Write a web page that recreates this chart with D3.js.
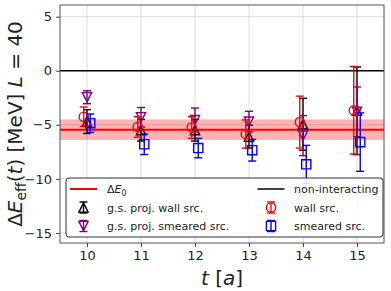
<!DOCTYPE html>
<html>
<head>
<meta charset="utf-8">
<script src="https://cdn.jsdelivr.net/npm/d3@7"></script>
<style>
	body { margin: 0; background: #fff; }
	svg { display: block; font-family: "DejaVu Sans", sans-serif; }
</style>
</head>
<body>
<div id="chartDiv"></div>
<script>
;(function() {

	// data
	var tValues = [10, 11, 12, 13, 14, 15];
	var xTicks = [10, 11, 12, 13, 14, 15];
	var yTicks = [5, 0, -5, -10, -15];

	var wallVal = [-4.25, -5.2, -5.25, -5.85, -4.75, -3.65];
	var wallErr = [0.9, 0.95, 1.0, 1.3, 2.4, 4.05];
	var smearVal = [-4.85, -6.8, -7.15, -7.35, -8.65, -6.6];
	var smearErr = [0.85, 0.95, 0.9, 1.0, 1.75, 2.7];
	var gsWallVal = [-4.7, -5.5, -5.5, -6.1, -4.95, -3.7];
	var gsWallErr = [1.1, 1.0, 1.0, 1.05, 2.4, 4.05];
	var gsSmearVal = [-2.45, -4.3, -4.55, -4.7, -6.0, -3.8];
	var gsSmearErr = [0.6, 0.9, 1.1, 0.95, 1.85, 2.3];

	var deltaE0 = -5.45;
	var deltaE0Err = 0.95;
	var nonInteracting = 0;

	var width = 391;
	var height = 291;
	var margin = { top: 5, right: 7, bottom: 48, left: 60 };
	var chartWidth = width - margin.left - margin.right;
	var chartHeight = height - margin.top - margin.bottom;

	var chart;

	init();

	function init() {
		chart = d3.select("#chartDiv").append("svg")
			.attr("width", width)
			.attr("height", height);

		chart.xScale = d3.scaleLinear().domain([9.5, 15.5]).range([0, chartWidth]);
		chart.yScale = d3.scaleLinear().domain([-15.93, 6.08]).range([chartHeight, 0]);

		chart.plotArea = chart.append("g")
			.attr("transform", "translate(" + margin.left + "," + margin.top + ")");

		createGrid();
		createAxes();
		drawBand();
		drawSeries(gsWallVal, gsWallErr, 0, "black", "triUp");
		drawSeries(gsSmearVal, gsSmearErr, 0, "purple", "triDown");
		drawZeroLine();
		drawSeries(wallVal, wallErr, -0.06, "red", "circle");
		drawSeries(smearVal, smearErr, 0.06, "blue", "square");
		drawFrame();
		drawLegend();
	}

	function createGrid() {
		var grid = chart.plotArea.append("g").attr("class", "grid");
		grid.selectAll(".vgrid").data(xTicks).enter().append("line")
			.attr("x1", function(d) { return chart.xScale(d); })
			.attr("x2", function(d) { return chart.xScale(d); })
			.attr("y1", 0).attr("y2", chartHeight)
			.attr("stroke", "#dcdcdc").attr("stroke-width", 1);
		grid.selectAll(".hgrid").data(yTicks).enter().append("line")
			.attr("y1", function(d) { return chart.yScale(d); })
			.attr("y2", function(d) { return chart.yScale(d); })
			.attr("x1", 0).attr("x2", chartWidth)
			.attr("stroke", "#dcdcdc").attr("stroke-width", 1);
	}

	function createAxes() {
		var fmt = function(d) { return d < 0 ? "\u2212" + Math.abs(d) : String(d); };

		chart.xAxis = d3.axisBottom(chart.xScale)
			.tickValues(xTicks).tickSizeInner(4).tickSizeOuter(0).tickPadding(4)
			.tickFormat(fmt);
		chart.yAxis = d3.axisLeft(chart.yScale)
			.tickValues(yTicks).tickSizeInner(4).tickSizeOuter(0).tickPadding(4)
			.tickFormat(fmt);

		var xg = chart.append("g")
			.attr("transform", "translate(" + margin.left + "," + (margin.top + chartHeight) + ")")
			.call(chart.xAxis);
		var yg = chart.append("g")
			.attr("transform", "translate(" + margin.left + "," + margin.top + ")")
			.call(chart.yAxis);

		[xg, yg].forEach(function(g) {
			g.select(".domain").remove();
			g.selectAll("line").attr("stroke", "#444");
			g.selectAll("text").attr("fill", "#222")
				.style("font-size", "13px").style("font-family", "DejaVu Sans");
		});

		// x axis header label
		var xl = chart.append("text")
			.attr("text-anchor", "middle")
			.attr("x", margin.left + chartWidth / 2)
			.attr("y", 285)
			.style("font-size", "20px")
			.attr("fill", "#222");
		xl.append("tspan").style("font-style", "italic").text("t");
		xl.append("tspan").text(" [");
		xl.append("tspan").style("font-style", "italic").text("a");
		xl.append("tspan").text("]");

		// y axis header label
		var yl = chart.append("text")
			.attr("text-anchor", "middle")
			.attr("transform", "translate(22," + (margin.top + chartHeight / 2) + ") rotate(-90)")
			.style("font-size", "20px")
			.attr("fill", "#222");
		yl.append("tspan").text("\u0394");
		yl.append("tspan").style("font-style", "italic").text("E");
		yl.append("tspan").attr("dy", 4).style("font-size", "14px").text("eff");
		yl.append("tspan").attr("dy", -4).text("(");
		yl.append("tspan").style("font-style", "italic").text("t");
		yl.append("tspan").text(") [MeV] ");
		yl.append("tspan").style("font-style", "italic").text("L");
		yl.append("tspan").text(" = 40");
	}

	function drawBand() {
		chart.plotArea.append("rect")
			.attr("x", 0)
			.attr("width", chartWidth)
			.attr("y", chart.yScale(deltaE0 + deltaE0Err))
			.attr("height", chart.yScale(deltaE0 - deltaE0Err) - chart.yScale(deltaE0 + deltaE0Err))
			.attr("fill", "red")
			.attr("fill-opacity", 0.3);
		chart.plotArea.append("line")
			.attr("x1", 0).attr("x2", chartWidth)
			.attr("y1", chart.yScale(deltaE0)).attr("y2", chart.yScale(deltaE0))
			.attr("stroke", "red").attr("stroke-width", 2);
	}

	function drawZeroLine() {
		chart.plotArea.append("line")
			.attr("x1", 0).attr("x2", chartWidth)
			.attr("y1", chart.yScale(nonInteracting)).attr("y2", chart.yScale(nonInteracting))
			.attr("stroke", "black").attr("stroke-width", 1.5);
	}

	function markerPath(shape) {
		var s = 4.6;
		if (shape == "triUp") return "M0," + (-s) + "L" + s + "," + s + "L" + (-s) + "," + s + "Z";
		if (shape == "triDown") return "M0," + s + "L" + s + "," + (-s) + "L" + (-s) + "," + (-s) + "Z";
		if (shape == "square") return "M" + (-s) + "," + (-s) + "H" + s + "V" + s + "H" + (-s) + "Z";
		return d3.arc()({ innerRadius: 0, outerRadius: s, startAngle: 0, endAngle: 2 * Math.PI });
	}

	function drawErrorMark(g, x, y, yTop, yBot, color, shape) {
		var cap = 4;
		g.append("line").attr("x1", x).attr("x2", x).attr("y1", yTop).attr("y2", yBot)
			.attr("stroke", color).attr("stroke-width", 1.4);
		[yTop, yBot].forEach(function(yy) {
			g.append("line").attr("x1", x - cap).attr("x2", x + cap).attr("y1", yy).attr("y2", yy)
				.attr("stroke", color).attr("stroke-width", 1.4);
		});
		g.append("path")
			.attr("d", markerPath(shape))
			.attr("transform", "translate(" + x + "," + y + ")")
			.attr("fill", "none")
			.attr("stroke", color)
			.attr("stroke-width", 1.4);
	}

	function drawSeries(vals, errs, offset, color, shape) {
		var g = chart.plotArea.append("g");
		tValues.forEach(function(t, i) {
			drawErrorMark(g,
				chart.xScale(t + offset),
				chart.yScale(vals[i]),
				chart.yScale(vals[i] + errs[i]),
				chart.yScale(vals[i] - errs[i]),
				color, shape);
		});
	}

	function drawFrame() {
		chart.plotArea.append("rect")
			.attr("x", 0).attr("y", 0)
			.attr("width", chartWidth).attr("height", chartHeight)
			.attr("fill", "none")
			.attr("stroke", "#555")
			.attr("stroke-width", 1);
	}

	function drawLegend() {
		var lg = chart.append("g");
		lg.append("rect")
			.attr("x", 66).attr("y", 178)
			.attr("width", 317).attr("height", 59)
			.attr("rx", 3)
			.attr("fill", "white").attr("fill-opacity", 0.85)
			.attr("stroke", "#333").attr("stroke-width", 1);

		var rows = [189, 207.5, 226];
		var entries = [
			{ col: 0, row: 0, kind: "line", color: "red", label: "delta" },
			{ col: 0, row: 1, kind: "err", color: "black", shape: "triUp", label: "g.s. proj. wall src." },
			{ col: 0, row: 2, kind: "err", color: "purple", shape: "triDown", label: "g.s. proj. smeared src." },
			{ col: 1, row: 0, kind: "line", color: "black", label: "non-interacting" },
			{ col: 1, row: 1, kind: "err", color: "red", shape: "circle", label: "wall src." },
			{ col: 1, row: 2, kind: "err", color: "blue", shape: "square", label: "smeared src." }
		];
		var handleX = [83.5, 271];
		var textX = [107, 294];

		entries.forEach(function(e) {
			var cx = handleX[e.col];
			var cy = rows[e.row];
			if (e.kind == "line") {
				lg.append("line")
					.attr("x1", cx - 13.5).attr("x2", cx + 13.5)
					.attr("y1", cy).attr("y2", cy)
					.attr("stroke", e.color)
					.attr("stroke-width", e.color == "red" ? 2 : 1.5);
			} else {
				drawErrorMark(lg, cx, cy, cy - 5.5, cy + 5.5, e.color, e.shape);
			}
			var txt = lg.append("text")
				.attr("x", textX[e.col])
				.attr("y", cy + 4)
				.style("font-size", "11px")
				.attr("fill", "#222");
			if (e.label == "delta") {
				txt.append("tspan").text("\u0394");
				txt.append("tspan").style("font-style", "italic").text("E");
				txt.append("tspan").attr("dy", 2.5).style("font-size", "8px").text("0");
			} else {
				txt.text(e.label);
			}
		});
	}
})();
</script>
</body>
</html>
